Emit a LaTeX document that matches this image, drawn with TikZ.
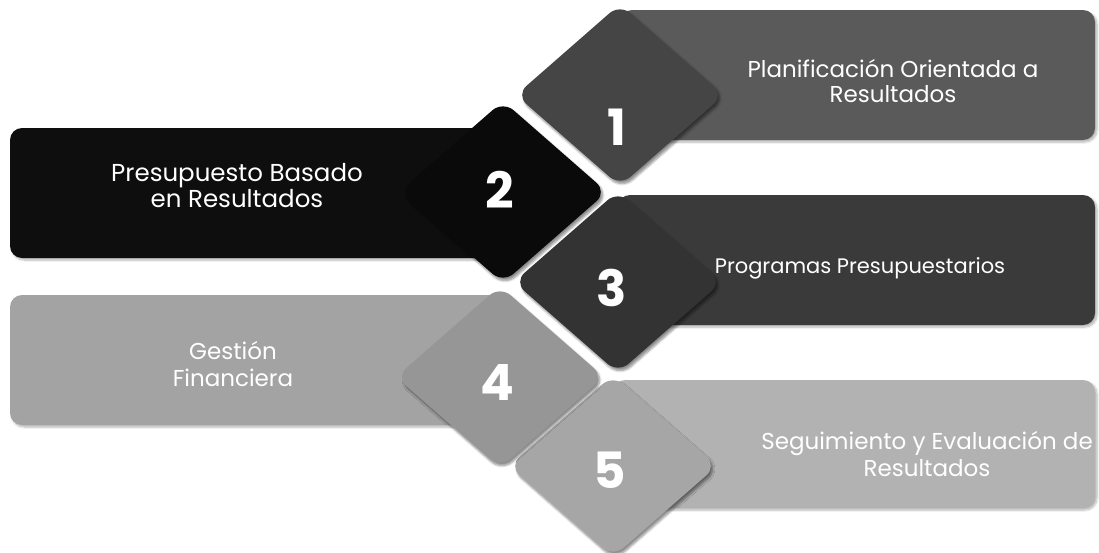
\documentclass[tikz,border=0pt]{standalone}
\usepackage{fontspec}
\setmainfont{Poppins}
\usetikzlibrary{shadows.blur}
\definecolor{bandA}{HTML}{5A5A5A}
\definecolor{diaA}{HTML}{454545}
\definecolor{bandB}{HTML}{0E0E0E}
\definecolor{diaB}{HTML}{0A0A0A}
\definecolor{bandC}{HTML}{3A3A3A}
\definecolor{diaC}{HTML}{333333}
\definecolor{bandD}{HTML}{A3A3A3}
\definecolor{diaD}{HTML}{969696}
\definecolor{bandE}{HTML}{B2B2B2}
\definecolor{diaE}{HTML}{A6A6A6}
\newcommand\mydiam[5]{\fill[#5,dia] (#1-#3,#2) -- (#1,#2-#4) -- (#1+#3,#2) -- (#1,#2+#4) -- cycle;}
\begin{document}
\begin{tikzpicture}[x=1pt,y=-1pt,
  band/.style={rounded corners=12pt, blur shadow={shadow blur steps=6, shadow xshift=2pt, shadow yshift=-2pt, shadow opacity=30}},
  dia/.style={rounded corners=14pt, blur shadow={shadow blur steps=6, shadow xshift=2pt, shadow yshift=-3pt, shadow opacity=45}},
  lbl/.style={text=white, align=center, inner sep=0pt},
  num/.style={text=white, font=\fontsize{50}{50}\selectfont\bfseries, inner sep=0pt}]
\useasboundingbox (0,0) rectangle (1099,552);
% item 5
\fill[bandE,band] (613,380) rectangle (1095,508);
\mydiam{613}{466}{104}{91}{diaE}
% item 4
\fill[bandD,band] (10,295) rectangle (500,425);
\mydiam{500}{377}{104}{91}{diaD}
% item 3
\fill[bandC,band] (618,195) rectangle (1095,325);
\mydiam{618}{282}{104}{91}{diaC}
% item 2
\fill[bandB,band] (10,128) rectangle (505,258);
\mydiam{503}{192}{104}{91}{diaB}
% item 1
\fill[bandA,band] (620,10) rectangle (1095,140);
\mydiam{620}{95}{104}{91}{diaA}
% numbers
\node[num] (n1) at (617,127) {1};
\node[num] (n2) at (500,190) {2};
\node[num] (n3) at (612,288) {3};
\node[num] (n4) at (497,382) {4};
\node[num] (n5) at (610,470) {5};
% labels
\node[lbl, font=\fontsize{23}{25}\selectfont] (t1) at (893,81) {Planificación Orientada a\\Resultados};
\node[lbl, font=\fontsize{24.5}{26}\selectfont] (t2) at (237,186) {Presupuesto Basado\\en Resultados};
\node[lbl, font=\fontsize{21}{25}\selectfont] (t3) at (860,268) {Programas Presupuestarios};
\node[lbl, font=\fontsize{23}{27}\selectfont] (t4) at (233,364) {Gestión\\Financiera};
\node[lbl, font=\fontsize{23}{27}\selectfont] (t5) at (927,454) {Seguimiento y Evaluación de\\Resultados};
\end{tikzpicture}
\end{document}
